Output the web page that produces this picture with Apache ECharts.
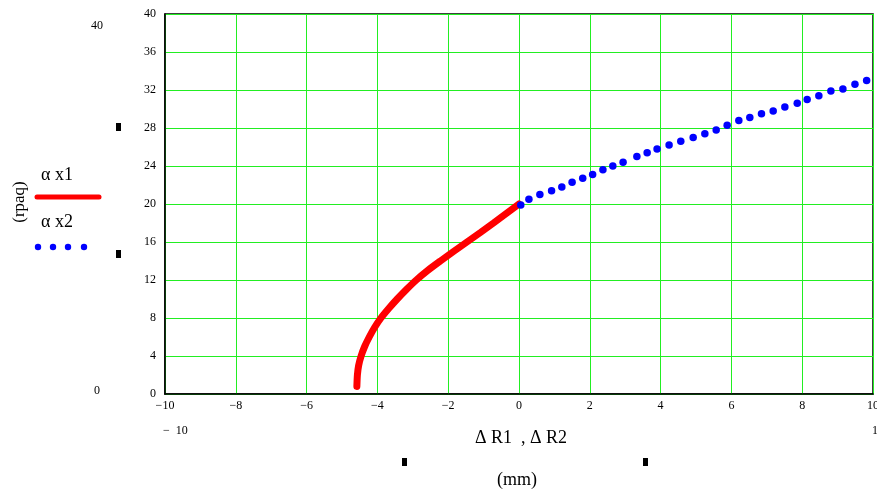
<!DOCTYPE html>
<html>
<head>
<meta charset="utf-8">
<script src="https://cdn.jsdelivr.net/npm/echarts@6/dist/echarts.min.js"></script>
<style>
  html, body { margin: 0; padding: 0; background: #fff; }
  #chart { width: 877px; height: 490px; }
</style>
</head>
<body>
<div id="chart"></div>
<script>
// alpha x1 (solid red)
const redX = [-4.58, -4.565, -4.53, -4.46, -4.36, -4.23, -4.08, -3.90, -3.68, -3.44, -3.18, -2.90, -2.58, -2.22, -1.85, -1.47, -1.09, -0.72, -0.36, 0];
const redY = [0.8, 2, 3, 4, 5, 6, 7, 8, 9, 10, 11, 12, 13, 14, 15, 16, 17, 18, 19, 20];

// alpha x2 (blue dots)
const blueX = [0.05, 0.28, 0.59, 0.92, 1.21, 1.50, 1.80, 2.08, 2.37, 2.65, 2.94, 3.33, 3.62, 3.90, 4.24, 4.57, 4.92, 5.25, 5.57, 5.88,
  6.21, 6.52, 6.85, 7.18, 7.51, 7.86, 8.14, 8.47, 8.81, 9.15, 9.49, 9.82];
const blueY = [19.9, 20.5, 21.0, 21.4, 21.8, 22.3, 22.7, 23.1, 23.6, 24.0, 24.4, 25.0, 25.4, 25.8, 26.2, 26.6, 27.0, 27.4, 27.8, 28.3,
  28.8, 29.1, 29.5, 29.8, 30.2, 30.6, 31.0, 31.4, 31.9, 32.1, 32.6, 33.0];

const xTicks = [-10, -8, -6, -4, -2, 0, 2, 4, 6, 8, 10];
const yTicks = [0, 4, 8, 12, 16, 20, 24, 28, 32, 36, 40];

const serif = "Liberation Serif";
const green = "#22ee22";

const chart = echarts.init(document.getElementById("chart"));

const option = {
  animation: false,
  backgroundColor: "#fff",
  grid: {
    left: 165, right: 4, top: 14, bottom: 96,
    outerBoundsMode: "none",
    containLabel: false,
    show: true, borderColor: "#000", borderWidth: 1.5, backgroundColor: "transparent"
  },
  xAxis: {
    type: "value",
    min: xTicks[0], max: xTicks[xTicks.length - 1], interval: 2,
    axisLine: { show: true, onZero: false, lineStyle: { color: "#000", width: 1.5 } },
    axisTick: { show: false },
    splitLine: { show: true, lineStyle: { color: green, width: 1 } },
    axisLabel: {
      margin: 6,
      fontFamily: serif, fontSize: 12, color: "#000",
      formatter: (v) => (v < 0 ? "\u2212" + (-v) : String(v))
    }
  },
  yAxis: {
    type: "value",
    min: yTicks[0], max: yTicks[yTicks.length - 1], interval: 4,
    axisLine: { show: true, onZero: false, lineStyle: { color: "#000", width: 1.5 } },
    axisTick: { show: false },
    splitLine: { show: true, lineStyle: { color: green, width: 1 } },
    axisLabel: { margin: 9, fontFamily: serif, fontSize: 12, color: "#000" }
  },
  series: [
    {
      name: "\u03b1 x1",
      type: "line",
      data: redX.map((x, i) => [x, redY[i]]),
      smooth: 0.2,
      showSymbol: false,
      lineStyle: { color: "#ff0000", width: 7, cap: "round" },
      z: 3
    },
    {
      name: "\u03b1 x2",
      type: "scatter",
      data: blueX.map((x, i) => [x, blueY[i]]),
      symbol: "circle",
      symbolSize: 7.5,
      itemStyle: { color: "#0000ff", opacity: 1 },
      z: 4
    }
  ],
  graphic: [
    // y axis name
    { type: "text", x: 20, y: 202, rotation: Math.PI / 2, style: { text: "(rpaq)", font: "17px " + serif, fill: "#000", align: "center", verticalAlign: "middle" } },
    // legend
    { type: "text", x: 41, y: 175, style: { text: "\u03b1 x1", font: "18px " + serif, fill: "#000", verticalAlign: "middle" } },
    { type: "line", shape: { x1: 37, y1: 197, x2: 99, y2: 197 }, style: { stroke: "#ff0000", lineWidth: 5, lineCap: "round" } },
    { type: "text", x: 41, y: 222, style: { text: "\u03b1 x2", font: "18px " + serif, fill: "#000", verticalAlign: "middle" } },
    { type: "circle", shape: { cx: 38, cy: 247, r: 3.2 }, style: { fill: "#0000ff" } },
    { type: "circle", shape: { cx: 53, cy: 247, r: 3.2 }, style: { fill: "#0000ff" } },
    { type: "circle", shape: { cx: 68, cy: 247, r: 3.2 }, style: { fill: "#0000ff" } },
    { type: "circle", shape: { cx: 84, cy: 247, r: 3.2 }, style: { fill: "#0000ff" } },
    // outer limit labels
    { type: "text", x: 97, y: 26, style: { text: "40", font: "12px " + serif, fill: "#000", align: "center", verticalAlign: "middle" } },
    { type: "text", x: 97, y: 391, style: { text: "0", font: "12px " + serif, fill: "#000", align: "center", verticalAlign: "middle" } },
    { type: "text", x: 163, y: 431, style: { text: "\u2212  10", font: "12px " + serif, fill: "#000", verticalAlign: "middle" } },
    { type: "text", x: 872, y: 431, style: { text: "1", font: "12px " + serif, fill: "#000", verticalAlign: "middle" } },
    // placeholder marks
    { type: "rect", shape: { x: 116, y: 123, width: 5, height: 8 }, style: { fill: "#000" } },
    { type: "rect", shape: { x: 116, y: 250, width: 5, height: 8 }, style: { fill: "#000" } },
    { type: "rect", shape: { x: 402, y: 458, width: 5, height: 8 }, style: { fill: "#000" } },
    { type: "rect", shape: { x: 643, y: 458, width: 5, height: 8 }, style: { fill: "#000" } },
    // x axis names
    { type: "text", x: 521, y: 438, style: { text: "\u0394 R1  , \u0394 R2", font: "18px " + serif, fill: "#000", align: "center", verticalAlign: "middle" } },
    { type: "text", x: 517, y: 480, style: { text: "(mm)", font: "18px " + serif, fill: "#000", align: "center", verticalAlign: "middle" } }
  ]
};

chart.setOption(option);
</script>
</body>
</html>
